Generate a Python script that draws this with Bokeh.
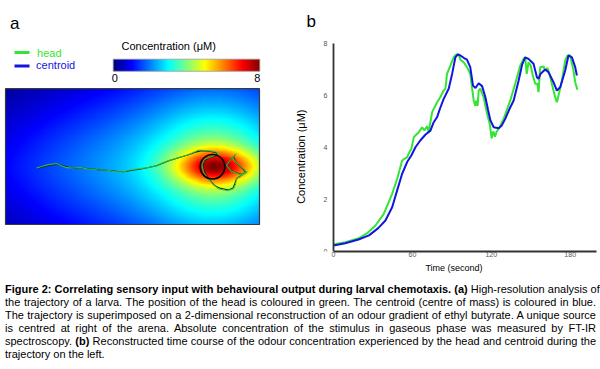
import numpy as np
from bokeh.plotting import figure
from bokeh.layouts import column, row
from bokeh.models import Range1d, LinearColorMapper, FixedTicker, Div
from bokeh.core.properties import value
from bokeh.embed import file_html
from bokeh.resources import INLINE

FONT = "Liberation Sans"
NB = "\u00a0"

# ---------------- data ----------------
# arena (mm) and odour source
ARENA_W, ARENA_H = 127.0, 80.5
SRC_X, SRC_Y = 103.5, 34.25
SRC_R = 6.15
C_LOW, C_HIGH = 0, 8

# larva trajectory in arena (mm)
head_x = [15.5, 18.5, 21.5, 25.5, 27.5, 30.5, 34, 37.5, 41, 46, 51, 55, 59, 61.5, 66, 71, 75, 77.5, 81, 86,
          91, 94, 96.5, 101.5, 105, 107, 103.5, 99.5, 98.2, 99, 101.5, 104, 106.5, 111, 114, 115, 115.5,
          117.5, 120.7, 119.5, 116.5, 113.5, 115.5, 112.5, 110.5, 113, 117.5, 121]
head_y = [33.5, 34.5, 35.5, 36.2, 35.2, 33.7, 33.5, 33.7, 33, 32.5, 32.2, 31.2, 31.2, 32.2, 33, 33.7, 34.7,
          36, 37.7, 39.5, 41.2, 42.7, 44.2, 43.7, 43.2, 41.5, 40.5, 38.7, 35.5, 31, 27, 23.5, 21.2, 20,
          21.2, 23.7, 27, 28.7, 30.7, 32.5, 35.5, 39.5, 42, 38.5, 35, 31.5, 29.5, 31.5]
cen_x = [16, 19, 22.5, 26, 28.5, 31.5, 35, 38.5, 42, 47, 52, 56, 59.5, 62.5, 67, 71.5, 75.5, 78.5, 82, 87,
         91.5, 95, 98, 102, 105.5, 106, 102.5, 99.5, 98.8, 99.8, 102, 104.5, 107.5, 111.5, 113.8, 114.6,
         115.5, 118, 120, 118.8, 116, 114, 114.8, 112, 110.8, 113.6, 117.8, 120.5]
cen_y = [33.3, 34.3, 35.2, 35.8, 35, 33.9, 33.3, 33.5, 33, 32.4, 32, 31.4, 31.3, 32, 32.8, 33.8, 34.8, 36.3,
         37.9, 39.7, 41.4, 42.9, 43.8, 43.4, 42.6, 41, 39.8, 37.8, 34.7, 30.4, 26.6, 23.2, 21.4, 20.5,
         21.6, 24, 27.2, 29.2, 31, 32.8, 36, 39.8, 41.2, 37.8, 34.4, 31.2, 29.8, 31.2]

# concentration time courses (s, uM)
cen_t = [0, 9, 19, 27, 34, 39.5, 44.6, 48.4, 52.2, 56, 59.2, 62.3, 66, 70, 73.7, 76, 78.8, 81, 83.8, 87.6,
         90.2, 92.7, 94.5, 96.5, 99, 101.5, 104, 106.1, 108, 110.4, 113, 115.5, 117.5, 119.3, 121.8, 125.6,
         128, 130.6, 134, 137, 140.8, 143.5, 145.8, 148.3, 152.1, 154.7, 155.9, 157.5, 161, 163.5, 167.3,
         169.9, 172.4, 176.2, 178.7, 181.3, 183.8, 185.1]
cen_c = [0.23, 0.32, 0.46, 0.62, 0.90, 1.19, 1.70, 2.35, 2.99, 3.44, 3.69, 4.01, 4.27, 4.50, 4.65, 4.95,
         5.17, 5.50, 5.87, 6.26, 6.83, 7.47, 7.58, 7.54, 7.45, 7.38, 7.09, 6.38, 6.29, 6.47, 6.36, 5.93,
         5.45, 5.05, 4.78, 4.74, 4.85, 5.10, 5.50, 5.81, 6.58, 7.20, 7.47, 7.41, 7.22, 6.70, 6.64, 6.84,
         7.00, 6.90, 6.51, 6.19, 6.32, 6.96, 7.54, 7.47, 7.09, 6.77]
head_t = [0, 9, 19.2, 26, 31.9, 38.2, 44.6, 48.4, 52.2, 54.5, 56, 57.5, 59.2, 61.1, 63, 64.9, 67.4, 69.1,
          71.2, 72.4, 75, 78.8, 81.3, 83.8, 85.1, 86.3, 88.9, 91.4, 93.4, 95.2, 96.5, 99, 101.5, 104, 105.3,
          106.6, 107.9, 108.6, 109.6, 110.4, 111.6, 114.2, 116.8, 118.8, 120.3, 121.5, 122.8, 124, 126,
          129.4, 134.4, 138.2, 142, 144.5, 145.8, 146.9, 148.3, 150, 151.6, 153.4, 155, 155.9, 157.2, 159.7,
          161, 162.8, 164.8, 167.3, 168.6, 169.9, 171.1, 173.7, 176.2, 178, 180, 182.5, 183.8, 185.5]
head_c = [0.27, 0.36, 0.51, 0.72, 1.0, 1.45, 2.22, 2.79, 3.50, 3.58, 3.62, 3.80, 3.95, 4.40, 4.50, 4.59,
          4.78, 4.66, 4.82, 4.60, 5.36, 5.74, 5.94, 6.19, 6.26, 6.83, 7.15, 7.47, 7.58, 7.58, 7.38, 7.28,
          7.09, 6.83, 6.32, 5.81, 5.60, 5.81, 5.60, 6.19, 6.26, 5.93, 5.30, 4.91, 4.35, 4.62, 4.42, 4.60,
          4.75, 5.10, 5.81, 6.45, 7.15, 7.41, 7.47, 6.83, 7.28, 7.15, 6.77, 6.45, 6.45, 6.13, 7.09, 7.12,
          6.96, 7.06, 6.71, 6.19, 5.93, 5.74, 6.00, 6.58, 7.35, 7.54, 7.54, 6.96, 6.51, 6.22]

x_ticks = [0, 60, 120, 180]
y_ticks = [0, 2, 4, 6, 8]
T_MAX, C_MAX = 200, 8

HEAD_COL = "#33e533"
CEN_COL = "#1414e0"


# ---------------- jet palette ----------------
def jet_palette(n=256):
    out = []
    for v in np.linspace(0, 1, n):
        r = np.clip(min(4 * v - 1.5, -4 * v + 4.5), 0, 1)
        g = np.clip(min(4 * v - 0.5, -4 * v + 3.5), 0, 1)
        b = np.clip(min(4 * v + 0.5, -4 * v + 2.5), 0, 1)
        out.append("#%02x%02x%02x" % (int(r * 255), int(g * 255), int(b * 255)))
    return out


JET = jet_palette()
mapper = LinearColorMapper(palette=JET, low=C_LOW, high=C_HIGH)

# reconstructed odour field (model of the gradient around the source)
gx = (np.arange(254) + 0.5) * (ARENA_W / 254)
gy = (np.arange(161) + 0.5) * (ARENA_H / 161)
X, Y = np.meshgrid(gx, gy)
dx = X - SRC_X
dy = Y - SRC_Y
left = dx < 0
fall = np.exp(-(dx / 50.0) ** 2)
kx = np.where(left, 0.6 + 0.4 * fall, 1.0)
pn = np.where(left, 2.0 - 0.4 * (1 - fall), 2.0)
r = (np.abs(kx * dx) ** pn + np.abs(dy) ** pn) ** (1.0 / pn)
field = 5.2 * np.exp(-(r / 45.0) ** 1.257) * np.exp(-(r / 88.0) ** 6)
field = field + 2.9 * np.exp(-((X - (SRC_X + 3.0)) / 21.0) ** 2 - (dy / 9.5) ** 2)

# ---------------- panel a ----------------
FIG_H = 281
fa = figure(width=290, height=FIG_H, x_range=Range1d(-2.5, 142.5), y_range=Range1d(-16.0, 124.5),
            output_backend="svg", toolbar_location=None, x_axis_location=None, y_axis_location=None,
            min_border=0, outline_line_color=None, title=None)
fa.xgrid.visible = False
fa.ygrid.visible = False

fa.image(image=[field], x=0, y=0, dw=ARENA_W, dh=ARENA_H, color_mapper=mapper)
fa.quad(left=[0], right=[ARENA_W], bottom=[0], top=[ARENA_H], fill_color=None,
        line_color="#3a3a3a", line_width=1.2)
fa.line(cen_x, cen_y, line_color="#0f2a0f", line_width=1.1)
fa.line(head_x, head_y, line_color="#3cc43c", line_width=1.1, line_alpha=0.9)
fa.circle(x=[SRC_X], y=[SRC_Y], radius=SRC_R, fill_color=None, line_color="black", line_width=1.6)

# colour bar
CB_X0, CB_X1, CB_Y0, CB_Y1 = 53.85, 127.15, 90.85, 98.0
cb_vals = np.linspace(C_LOW, C_HIGH, 256)[None, :]
fa.image(image=[cb_vals], x=CB_X0, y=CB_Y0, dw=CB_X1 - CB_X0, dh=CB_Y1 - CB_Y0, color_mapper=mapper)
fa.quad(left=[CB_X0], right=[CB_X1], bottom=[CB_Y0], top=[CB_Y1], fill_color=None,
        line_color="#9a9a9a", line_width=0.8)
fa.text(x=[58.0], y=[106.0], text=["Concentration (\u03bcM)"], text_font=value(FONT),
        text_font_size="11px", text_baseline="middle", text_align="left", text_color="black")
fa.text(x=[54.65, 125.85], y=[86.6, 86.6], text=[str(C_LOW), str(C_HIGH)], text_font=value(FONT),
        text_font_size="11px", text_baseline="middle", text_align="center", text_color="black")

# legend
fa.segment(x0=[4.5], y0=[102.0], x1=[12.0], y1=[102.0], line_color=HEAD_COL, line_width=3)
fa.segment(x0=[4.5], y0=[94.0], x1=[12.0], y1=[94.0], line_color=CEN_COL, line_width=3)
fa.text(x=[15.8], y=[101.8], text=["head"], text_font=value(FONT), text_font_size="11px",
        text_baseline="middle", text_color=HEAD_COL)
fa.text(x=[15.3], y=[94.4], text=["centroid"], text_font=value(FONT), text_font_size="11px",
        text_baseline="middle", text_color=CEN_COL)
fa.text(x=[2.3], y=[119.0], text=["a"], text_font=value(FONT), text_font_size="17px",
        text_baseline="middle", text_color="black")

# ---------------- panel b ----------------
PX_PER_S = 263.0 / T_MAX     # 60 s = 79 px
PX_PER_C = 26.0              # 2 uM = 52 px
fb = figure(width=310, height=FIG_H,
            x_range=Range1d(-41.0 / PX_PER_S, T_MAX + 4.0 / PX_PER_S),
            y_range=Range1d(0, 237.0 / PX_PER_C),
            output_backend="svg", toolbar_location=None, min_border_left=2, min_border_right=0,
            min_border_top=14, min_border_bottom=30, outline_line_color=None)
fb.xgrid.visible = False
fb.ygrid.visible = False
fb.line(head_t, head_c, line_color=HEAD_COL, line_width=2)
fb.line(cen_t, cen_c, line_color=CEN_COL, line_width=2)

fb.xaxis.ticker = FixedTicker(ticks=x_ticks)
fb.yaxis.ticker = FixedTicker(ticks=y_ticks)
fb.xaxis.bounds = (0, T_MAX)
fb.yaxis.bounds = (0, C_MAX)
fb.yaxis.fixed_location = 0
for ax in (fb.xaxis[0], fb.yaxis[0]):
    ax.axis_line_color = "#333333"
    ax.axis_line_width = 1.8
    ax.major_tick_line_color = None
    ax.minor_tick_line_color = None
    ax.major_tick_out = 0
    ax.major_tick_in = 0
    ax.minor_tick_out = 0
    ax.major_label_text_font = FONT
    ax.major_label_text_font_size = "7px"
    ax.major_label_text_color = "#555555"
    ax.axis_label_text_font = FONT
    ax.axis_label_text_font_style = "normal"
    ax.axis_label_text_color = "black"
fb.xaxis.axis_label = NB * 6 + "Time (second)"
fb.xaxis.axis_label_text_font_size = "9px"
fb.xaxis.major_label_standoff = 0
fb.xaxis.axis_label_standoff = 3
fb.yaxis.axis_label = "Concentration (\u03bcM)" + NB * 6
fb.yaxis.axis_label_text_font_size = "11px"
fb.yaxis.major_label_standoff = 6
fb.yaxis.axis_label_standoff = 14

# panel letter
fb.text(x=[-27.0 / PX_PER_S], y=[230.5 / PX_PER_C], text=["b"], text_font=value(FONT),
        text_font_size="17px", text_baseline="middle", text_color="black")

# ---------------- caption ----------------
line_style = "text-align:justify;text-align-last:justify;white-space:nowrap;"
cap_lines = [
    "<b>Figure 2: Correlating sensory input with behavioural output during larval chemotaxis. (a)</b> "
    "High-resolution analysis of",
    "the trajectory of a larva. The position of the head is coloured in green. The centroid (centre of mass) "
    "is coloured in blue.",
    "The trajectory is superimposed on a 2-dimensional reconstruction of an odour gradient of ethyl butyrate. "
    "A unique source",
    "is centred at right of the arena. Absolute concentration of the stimulus in gaseous phase was measured by FT-IR",
    "spectroscopy. <b>(b)</b> Reconstructed time course of the odour concentration experienced by the head and "
    "centroid during the",
]
html = ('<div style="margin:0 0 0 5px;padding-top:2px;width:591px;font-family:\'Liberation Sans\',Arial,'
        'sans-serif;font-size:11px;line-height:13.1px;color:#000;">')
for ln in cap_lines:
    html += '<div style="%s">%s</div>' % (line_style, ln)
html += '<div style="white-space:nowrap;">trajectory on the left.</div></div>'
cap = Div(text=html, width=600, height=369 - FIG_H, margin=(0, 0, 0, 0))

layout = column(row(fa, fb), cap)

open("out.html", "w").write(file_html(layout, INLINE))
